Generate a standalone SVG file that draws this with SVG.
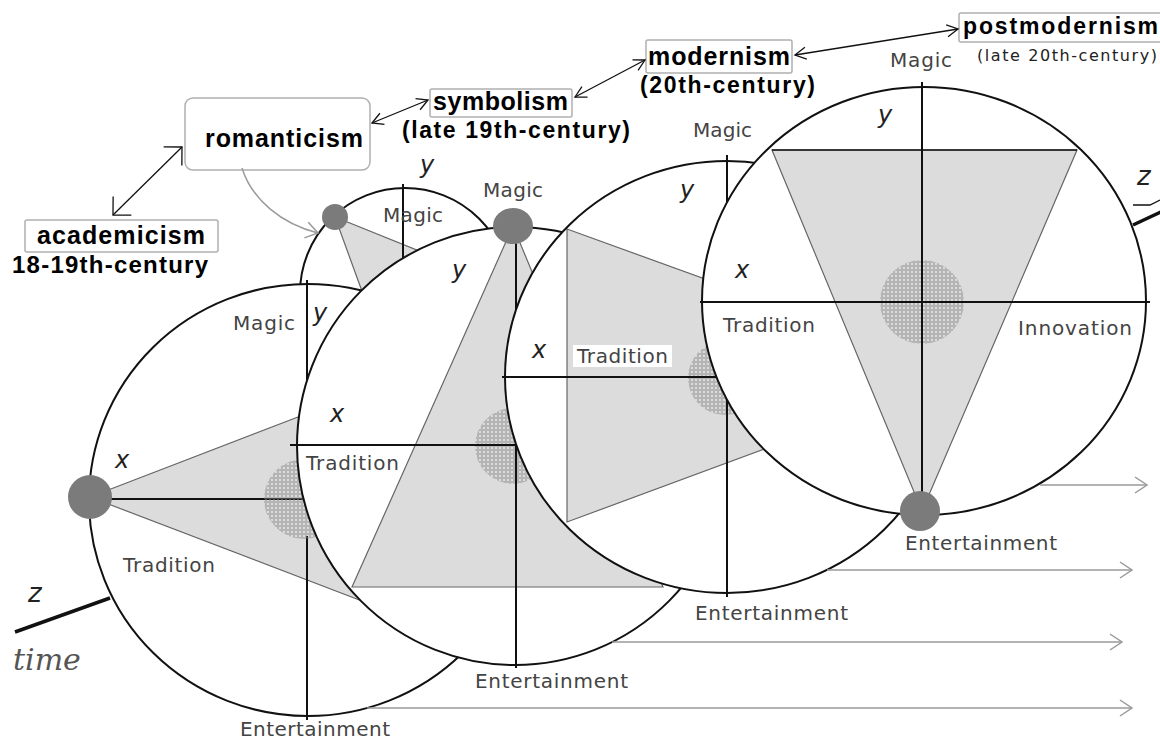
<svg xmlns="http://www.w3.org/2000/svg" width="1160" height="742" viewBox="0 0 1160 742">
<defs>
<style>
.cf{fill:#fff;stroke:none}
.cs{fill:none;stroke:#111;stroke-width:2}
.tri{fill:#dcdcdc;stroke:#666;stroke-width:1.2}
.ax{stroke:#111;stroke-width:2;fill:none}
.dot{fill:#7b7b7b}
.hat{fill:url(#hatch)}
.lbl{font-family:"DejaVu Sans",Verdana,sans-serif;font-size:20px;fill:#444}
.it{font-family:"DejaVu Sans",sans-serif;font-style:italic;font-size:24px;fill:#222}
.bt{font-family:"Liberation Sans",Arial,sans-serif;font-weight:bold;font-size:25px;fill:#000}
.box{fill:#fff;stroke:#b0b0b0;stroke-width:1.5}
.con{stroke:#111;stroke-width:1.3;fill:none}
.zarr{stroke:#9a9a9a;stroke-width:1.5;fill:none}
</style>
<pattern id="hatch" width="4" height="4" patternUnits="userSpaceOnUse">
<circle cx="2" cy="2" r="1.3" fill="none" stroke="#8a8a8a" stroke-width="0.8"/>
</pattern>
<marker id="ahB" markerUnits="userSpaceOnUse" viewBox="0 0 16 28" markerWidth="16" markerHeight="28" refX="14" refY="14" orient="auto-start-reverse" style="overflow:visible">
<path d="M1,1 L14,14 L1,27" fill="none" stroke="#111" stroke-width="1.3"/>
</marker>
<marker id="ah" markerUnits="userSpaceOnUse" viewBox="0 0 14 14" markerWidth="14" markerHeight="14" refX="12" refY="7" orient="auto-start-reverse" style="overflow:visible">
<path d="M1,1 L12,7 L1,13" fill="none" stroke="#111" stroke-width="1.3"/>
</marker>
<marker id="ahG" markerUnits="userSpaceOnUse" viewBox="0 0 14 18" markerWidth="14" markerHeight="18" refX="13" refY="9" orient="auto" style="overflow:visible">
<path d="M1,1 L13,9 L1,17" fill="none" stroke="#9a9a9a" stroke-width="1.5"/>
</marker>
<clipPath id="k1"><circle cx="405" cy="293" r="105"/></clipPath>
<clipPath id="k0"><ellipse cx="308" cy="500" rx="219" ry="216"/></clipPath>
<clipPath id="k2"><ellipse cx="515" cy="446" rx="218" ry="219"/></clipPath>
<clipPath id="k3"><ellipse cx="727" cy="377" rx="222" ry="216"/></clipPath>
<clipPath id="k4"><ellipse cx="924" cy="301" rx="222" ry="214"/></clipPath>
</defs>

<g id="disc-romanticism">
<circle class="cf" cx="405" cy="293" r="105"/>
<polygon class="tri" points="335,217 424,253 363,294" clip-path="url(#k1)"/>
<path class="ax" d="M403,184 V280"/>
<circle class="cs" cx="405" cy="293" r="105"/>
<circle class="dot" cx="335" cy="217" r="13"/>
<text class="lbl" x="383" y="222" textLength="60">Magic</text>
<text class="it" x="420" y="173">y</text>
</g>

<g id="disc-academicism">
<ellipse class="cf" cx="308" cy="500" rx="219" ry="216"/>
<polygon class="tri" points="90,497 298,417 362,601" clip-path="url(#k0)"/>
<path class="ax" d="M90,499 H330 M307,280 V400 M307,536 V720"/>
<circle class="hat" cx="304" cy="499" r="40"/>
<ellipse class="cs" cx="308" cy="500" rx="219" ry="216"/>
<circle class="dot" cx="90" cy="497" r="22"/>
<text class="lbl" x="233" y="330" textLength="62">Magic</text>
<text class="it" x="313" y="321">y</text>
<text class="it" x="115" y="468">x</text>
<text class="lbl" x="123" y="572" textLength="92">Tradition</text>
<text class="lbl" x="240" y="736" textLength="150">Entertainment</text>
</g>

<g id="disc-symbolism">
<ellipse class="cf" cx="515" cy="446" rx="218" ry="219"/>
<polygon class="tri" points="513,226 352,587 663,587" clip-path="url(#k2)"/>
<circle class="hat" cx="513" cy="446" r="38"/>
<path class="ax" d="M290,445 H560 M516,226 V668"/>
<ellipse class="cs" cx="515" cy="446" rx="218" ry="219"/>
<ellipse class="dot" cx="513" cy="226" rx="20" ry="18"/>
<text class="lbl" x="483" y="197" textLength="60">Magic</text>
<text class="it" x="452" y="278">y</text>
<text class="it" x="330" y="422">x</text>
<text class="lbl" x="306" y="470" textLength="93">Tradition</text>
<text class="lbl" x="475" y="688" textLength="153">Entertainment</text>
</g>

<g id="disc-modernism">
<ellipse class="cf" cx="727" cy="377" rx="222" ry="216"/>
<polygon class="tri" points="567,229 967,374 567,522" clip-path="url(#k3)"/>
<circle class="hat" cx="725" cy="378" r="37"/>
<path class="ax" d="M502,377 H760 M727,155 V597"/>
<ellipse class="cs" cx="727" cy="377" rx="222" ry="216"/>
<rect x="573" y="345" width="99" height="22" fill="#fff"/>
<text class="lbl" x="577" y="363" textLength="91">Tradition</text>
<text class="lbl" x="693" y="137" textLength="59">Magic</text>
<text class="it" x="680" y="198">y</text>
<text class="it" x="532" y="358">x</text>
<text class="lbl" x="695" y="620" textLength="153">Entertainment</text>
</g>

<g id="disc-postmodernism">
<ellipse class="cf" cx="924" cy="301" rx="222" ry="214"/>
<polygon class="tri" points="772,150 1077,150 922,511" clip-path="url(#k4)"/>
<circle class="hat" cx="922" cy="302" r="42"/>
<path class="ax" d="M700,302 H1150 M922,82 V511"/>
<path class="ax" d="M772,150 H1077" style="stroke-width:1.5"/>
<ellipse class="cs" cx="924" cy="301" rx="222" ry="214"/>
<circle class="dot" cx="920" cy="511" r="20"/>
<text class="lbl" x="890" y="67" textLength="62">Magic</text>
<text class="it" x="878" y="123">y</text>
<text class="it" x="735" y="278">x</text>
<text class="lbl" x="723" y="332" textLength="92">Tradition</text>
<text class="lbl" x="1018" y="335" textLength="114">Innovation</text>
<text class="lbl" x="905" y="550" textLength="152">Entertainment</text>
</g>

<g id="node-academicism">
<rect class="box" x="25" y="220" width="193" height="32" rx="2"/>
<text class="bt" x="37" y="244" textLength="168">academicism</text>
<text class="bt" x="12" y="273" textLength="196" style="font-size:24px">18-19th-century</text>
</g>
<g id="node-romanticism">
<rect class="box" x="185" y="98" width="185" height="72" rx="8"/>
<text class="bt" x="205" y="147" textLength="158">romanticism</text>
</g>
<g id="node-symbolism">
<rect class="box" x="430" y="89" width="142" height="28" rx="2"/>
<text class="bt" x="433" y="110" textLength="135">symbolism</text>
<text class="bt" x="402" y="138" textLength="228" style="font-size:23px">(late 19th-century)</text>
</g>
<g id="node-modernism">
<rect class="box" x="646" y="40" width="146" height="33" rx="2"/>
<text class="bt" x="648" y="65" textLength="142">modernism</text>
<text class="bt" x="640" y="93" textLength="175" style="font-size:23px">(20th-century)</text>
</g>
<g id="node-postmodernism">
<rect class="box" x="959" y="13" width="210" height="29" rx="2"/>
<text class="bt" x="963" y="34" textLength="195" style="font-size:23px">postmodernism</text>
<text x="977" y="61" textLength="180" style="font-family:'DejaVu Sans',sans-serif;font-size:16px;fill:#222">(late 20th-century)</text>
</g>

<g id="time-axis">
<path d="M15,632 L110,598" stroke="#111" stroke-width="3.5" fill="none"/>
<text class="it" x="28" y="602" style="font-size:26px">z</text>
<text x="13" y="670" style="font-family:'DejaVu Serif',serif;font-style:italic;font-size:30px;fill:#555">time</text>
<path d="M1133,225 L1163,211" stroke="#111" stroke-width="3.5" fill="none"/>
<path d="M1133,205 H1150 L1160,200" stroke="#111" stroke-width="1.3" fill="none"/>
<text class="it" x="1137" y="185" style="font-size:26px">z</text>
</g>

<g id="connectors">
<path class="con" d="M113,215 L182,147" marker-start="url(#ahB)" marker-end="url(#ahB)"/>
<path class="con" d="M372,123 L428,100" marker-start="url(#ah)" marker-end="url(#ah)"/>
<path class="con" d="M575,97 L645,60" marker-start="url(#ah)" marker-end="url(#ah)"/>
<path class="con" d="M795,55 L958,29" marker-start="url(#ah)" marker-end="url(#ah)"/>
<path class="zarr" d="M242,168 C252,200 282,224 318,233" marker-end="url(#ahG)"/>
<path class="zarr" d="M1040,485 H1147" marker-end="url(#ahG)"/>
<path class="zarr" d="M827,570 H1132" marker-end="url(#ahG)"/>
<path class="zarr" d="M612,642 H1122" marker-end="url(#ahG)"/>
<path class="zarr" d="M367,708 H1132" marker-end="url(#ahG)"/>
</g>
</svg>
